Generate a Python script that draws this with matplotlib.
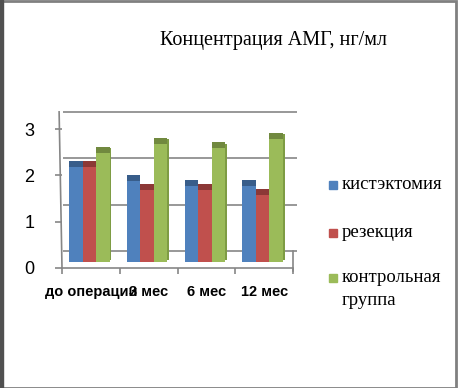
import matplotlib
matplotlib.use("Agg")
import matplotlib.pyplot as plt
import numpy as np
from matplotlib.patches import Rectangle

# Data
categories = ["до операции", "3 мес", "6 мес", "12 мес"]
series_names = ["кистэктомия", "резекция", "контрольная\nгруппа"]
cystectomy = [2.05, 1.75, 1.65, 1.65]
resection = [2.05, 1.55, 1.55, 1.45]
control = [2.35, 2.55, 2.45, 2.65]
y_ticks = [0, 1, 2, 3]
title = "Концентрация АМГ, нг/мл"

face_colors = ["#4f81bd", "#c0504d", "#9bbb59"]
top_colors = ["#385d8a", "#8c3836", "#71893f"]
grid_color = "#868686"

W, H = 458, 388
fig = plt.figure(figsize=(W / 100, H / 100), dpi=100)
fig.patch.set_facecolor("white")

# axes placed so that front axis runs x 62..293 px, value 0 at 268 px, 3 at 129 px
px_cat = 57.75
px_val = 46.33
ax_l, ax_r, ax_t, ax_b = 40, 305, 100, 285
ax = fig.add_axes([ax_l / W, (H - ax_b) / H, (ax_r - ax_l) / W, (ax_b - ax_t) / H])
ax.set_xlim((ax_l - 62) / px_cat - 0.5, (ax_r - 62) / px_cat - 0.5)
ax.set_ylim(-(ax_b - 268) / px_val, (268 - ax_t) / px_val)
ax.patch.set_alpha(0)

depth = 0.37      # back wall offset (value units)
bar_off = 0.13    # bar front face offset
cap = 0.13        # bar top depth
x = np.arange(len(categories))
bw = 0.234

# back wall gridlines
ax.hlines([t + depth for t in y_ticks], -0.49, 3.57, color=grid_color, lw=1.2, zorder=1)
# left wall edge and floor
ax.plot([-0.5, -0.55], [0, 3 + depth], color=grid_color, lw=1.2, zorder=1)
ax.plot([3.5, 3.5], [-0.06, depth], color=grid_color, lw=1.2, zorder=1)
ax.plot([-0.5, 3.5], [0, 0], color=grid_color, lw=1.2, zorder=1)

all_series = [cystectomy, resection, control]
for i, vals in enumerate(all_series):
    xs = x + (i - 1) * bw - 0.025
    ax.bar(xs, vals, width=bw, bottom=bar_off, color=face_colors[i], zorder=3)
    ax.bar(xs, [cap] * len(vals), width=bw, bottom=np.array(vals) + bar_off,
           color=top_colors[i], zorder=3)
    if i == len(all_series) - 1:
        # visible right side of the last bar in each group
        ax.bar(xs + bw / 2 + 0.015, np.array(vals) + cap * 0.5, width=0.03,
               bottom=bar_off + cap * 0.3, color="#7e9c44", zorder=2)

# axes styling
for s in ["top", "right", "bottom", "left"]:
    ax.spines[s].set_visible(False)
ax.spines["left"].set_position(("data", -0.5))
ax.spines["bottom"].set_position(("data", 0))
ax.set_yticks(y_ticks)
ax.set_yticklabels([str(t) for t in y_ticks], fontsize=13, family="Liberation Sans")
ax.tick_params(axis="y", length=5, width=1.2, color=grid_color, pad=15)
ax.set_xticks(x)
ax.set_xticklabels(categories, fontsize=10.5, family="Liberation Sans", fontweight="bold")
ax.set_xticks(np.arange(-0.5, 4, 1), minor=True)
ax.tick_params(axis="x", which="major", length=0, pad=12)
ax.tick_params(axis="x", which="minor", length=4, width=1.2, color=grid_color)

# title
fig.text(273 / W, 1 - 40 / H, title, ha="center", va="center",
         fontsize=14.5, family="Liberation Serif")

# legend
leg_y = [185, 233, 278]
for i, name in enumerate(series_names):
    fig.patches.append(Rectangle((329 / W, 1 - (leg_y[i] + 4) / H), 8 / W, 8 / H,
                                 transform=fig.transFigure, color=face_colors[i]))
    fig.text(342 / W, 1 - (leg_y[i] - 9) / H, name, ha="left", va="top",
             fontsize=13.5, family="Liberation Serif", linespacing=1.45)

# frame
fig.patches.append(Rectangle((0.5 / W, 0.5 / H), (W - 2.5) / W, (H - 1.5) / H,
                             transform=fig.transFigure, fill=False,
                             edgecolor="#808080", lw=2))
fig.patches.append(Rectangle((0, 0), 2.5 / W, 1, transform=fig.transFigure,
                             color="#505050"))

fig.savefig("out.png", dpi=100)
